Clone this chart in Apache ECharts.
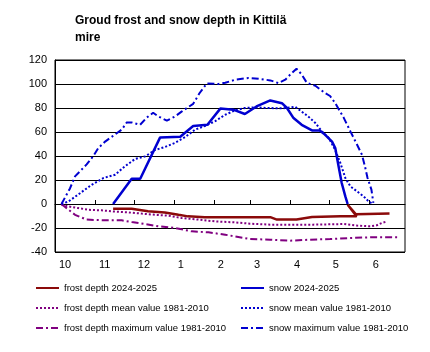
<html>
<head>
<meta charset="utf-8">
<script src="https://cdn.jsdelivr.net/npm/echarts@6/dist/echarts.min.js"></script>
<style>
  html, body { margin: 0; padding: 0; background: #fff; }
  #main { width: 430px; height: 352px; }
</style>
</head>
<body>
<div id="main"></div>
<script>
// x = days since 1 October, y = cm
var monthStarts = [0, 31, 61, 92, 123, 151, 182, 212, 243];
var monthLabels = ['10', '11', '12', '1', '2', '3', '4', '5', '6'];

var frostNow = [[45,-4],[59.4,-4],[72,-6],[85,-7],[95.6,-9],[103,-10.3],[116,-11],[166.7,-11],[171.8,-13],
  [187,-13],[199,-10.8],[221,-10.3],[233.5,-10.2],[226.6,-0.6],[233,-8.5],[259,-8]];
var frostMean = [[5,-0.6],[10.3,-2],[18,-3.4],[25.8,-4.8],[36,-5.3],[45,-6.2],[56.8,-7],[67,-8],[77.5,-9],
  [87.8,-9.7],[98,-11.7],[111,-13],[124,-14.5],[139.5,-15.3],[151,-16.4],[166.7,-17.2],[200,-17.2],
  [223.5,-16.7],[234,-18],[244,-18.6],[249,-17.8],[253,-15.8],[257,-14.5]];
var frostMax = [[5,0],[15.5,-9],[24.5,-13],[38.8,-13.6],[51.7,-13.6],[59.4,-15],[69.8,-16.7],[80,-18.6],
  [93,-20],[106,-22.8],[118.8,-23.6],[131.8,-25.6],[139.5,-27],[151,-29.2],[166.7,-29.7],[182,-30.6],
  [197.7,-29.7],[213,-29.2],[228.7,-28.3],[244,-27.8],[265,-27.8]];
var snowNow = [[45,0],[59.4,21],[66,21],[81.4,55.5],[97,56],[107,65],[118,66],[128,79.5],[138,78.6],
  [147,75],[156,81.3],[166.7,86.3],[175.7,84],[179.6,80],[184.7,71.6],[191,66],[199,61.3],[205,61.3],
  [209,57.8],[214.5,52],[217,46.7],[219.6,31.3],[222,17.5],[224.8,6.3],[226.6,0]];
var snowMean = [[5,0],[10.3,2],[19.4,9],[28.4,16],[37.4,21.6],[46.5,24.4],[54,31.3],[62,37.5],[69.8,39.7],
  [77.5,45],[85,47.5],[93,51],[100.8,55.8],[108.5,62],[116,65],[124,69],[131.8,74.4],[139.5,78],[147,80],
  [155,80.5],[165,80],[175.7,79.7],[186,81],[191,77],[196,73],[201.6,67.5],[206.7,60.5],[212,55],[217,45],
  [221,34],[224.8,21.7],[228.7,14.7],[233.9,10.5],[239,6.3],[243,2],[245.5,0.5]];
var snowMax = [[5,0],[11.6,13],[15.5,23],[24.5,33],[29.7,40],[33.6,46.7],[38.8,52],[47.8,59],[51.7,62],
  [55.6,68],[59.4,68],[65.9,66],[71,72],[76,76],[80,73],[86.6,69.5],[93,73],[98,77],[107,83.5],[112,92.5],
  [117.6,100.5],[126.6,100],[131.8,101],[139.5,103.6],[149.8,105],[157.6,104.4],[166.7,103],[173,100.8],
  [178.3,103.6],[182,107.7],[187,112.7],[191,108],[195,101],[201.6,98.5],[209,92.5],[213,90],[217,84],
  [223.5,72],[228.7,60.5],[233.9,49.4],[237.7,41],[240,31.3],[242,21.7],[245,12],[246.5,1]];

var FONT = 'Arial, "Liberation Sans", sans-serif';
var RED = '#8b0a0a', PURPLE = '#800080', BLUE = '#0000d0';
var DOT = [2, 2], DASHDOT = [7, 3, 2, 3];

function line(name, data, color, width, type, z) {
    return {
        name: name,
        type: 'line',
        data: data,
        symbol: 'circle',
        showSymbol: false,
        z: z,
        animation: false,
        lineStyle: { color: color, width: width, type: type },
        itemStyle: { color: color }
    };
}

var chart = echarts.init(document.getElementById('main'));

var legendBase = {
    orient: 'vertical',
    top: 278,
    itemWidth: 23,
    itemHeight: 10,
    itemGap: 10,
    itemStyle: { opacity: 0 },
    textStyle: { fontFamily: FONT, fontSize: 9.5, lineHeight: 10, color: '#000' }
};

chart.setOption({
    animation: false,
    title: {
        text: 'Groud frost and snow depth in Kittilä\nmire',
        left: 70,
        top: 7,
        textStyle: { fontFamily: FONT, fontSize: 12, fontWeight: 'bold', lineHeight: 17, color: '#000' }
    },
    legend: [
        Object.assign({ left: 30, data: ['frost depth 2024-2025', 'frost depth mean value 1981-2010', 'frost depth maximum value 1981-2010'] }, legendBase),
        Object.assign({ left: 235, data: ['snow 2024-2025', 'snow mean value 1981-2010', 'snow maximum value 1981-2010'] }, legendBase)
    ],
    grid: {
        left: 55, right: 25, top: 60, bottom: 100,
        show: true, borderColor: '#000', borderWidth: 1
    },
    xAxis: [{
        type: 'value',
        min: 0,
        max: 271,
        axisLine: { onZero: true, lineStyle: { color: '#000', width: 1 } },
        axisTick: { show: true, inside: true, length: 4, customValues: monthStarts.slice(1), lineStyle: { color: '#000' } },
        axisLabel: { show: false },
        splitLine: { show: false }
    }, {
        type: 'value',
        position: 'bottom',
        min: 0,
        max: 271,
        axisLine: { show: false },
        axisTick: { show: false },
        splitLine: { show: false },
        axisLabel: {
            customValues: monthStarts,
            align: 'left',
            padding: [0, 0, 0, 4],
            margin: 7,
            fontFamily: FONT,
            fontSize: 11,
            color: '#000',
            formatter: function (v) {
                var i = monthStarts.indexOf(v);
                return i >= 0 ? monthLabels[i] : '';
            }
        }
    }],
    yAxis: {
        type: 'value',
        min: -40,
        max: 120,
        interval: 20,
        axisLine: { show: true, lineStyle: { color: '#000' } },
        axisTick: { show: false },
        axisLabel: { fontFamily: FONT, fontSize: 11, color: '#000', margin: 8 },
        splitLine: { lineStyle: { color: '#000', width: 1 } }
    },
    series: [
        line('frost depth mean value 1981-2010', frostMean, PURPLE, 2, DOT, 2),
        line('frost depth maximum value 1981-2010', frostMax, PURPLE, 2, DASHDOT, 2),
        line('snow mean value 1981-2010', snowMean, BLUE, 2, DOT, 2),
        line('snow maximum value 1981-2010', snowMax, BLUE, 2, DASHDOT, 2),
        line('frost depth 2024-2025', frostNow, RED, 2.5, 'solid', 3),
        line('snow 2024-2025', snowNow, BLUE, 2.5, 'solid', 3)
    ]
});
</script>
</body>
</html>
